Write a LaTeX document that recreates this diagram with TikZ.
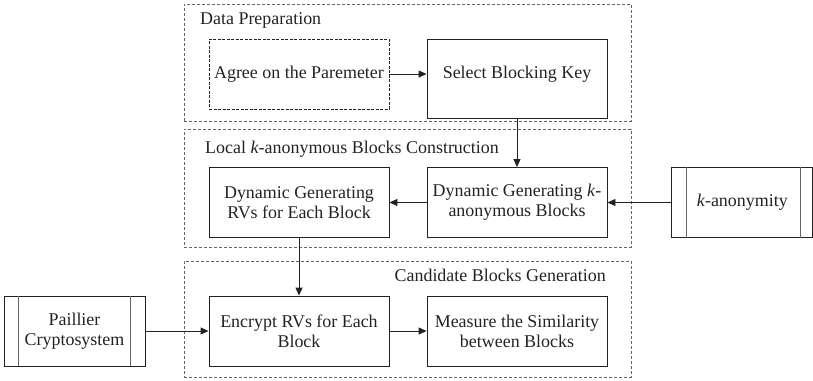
\documentclass[tikz,border=0pt]{standalone}
\usepackage{fontspec}
\setmainfont{Liberation Serif}
\usetikzlibrary{arrows.meta}
\definecolor{ink}{HTML}{222222}
\definecolor{frame}{HTML}{666666}
\begin{document}
\begin{tikzpicture}[x=1bp,y=-1bp,
  font=\fontsize{18}{20}\selectfont,
  every node/.style={text=ink},
  stage/.style={draw=frame, line width=0.8bp, dash pattern=on 3bp off 2bp, inner sep=0pt, anchor=north west},
  stagetitle/.style={inner sep=0pt},
  procbox/.style={draw=ink, line width=0.9bp, minimum width=180bp, minimum height=70bp, align=center, inner sep=2bp},
  optbox/.style={procbox, dash pattern=on 3bp off 1.5bp},
  extbox/.style={draw=ink, line width=0.9bp, minimum width=141bp, minimum height=70bp, align=center, inner sep=2bp},
  bar/.style={draw=frame, line width=1.1bp},
  flow/.style={draw=ink, line width=0.9bp, -{Triangle[length=8bp,width=7bp]}}
]
\useasboundingbox (0,0) rectangle (813,380);

% stage frames
\node[stage, minimum width=447bp, minimum height=117bp] (g1) at (184,4) {};
\node[stage, minimum width=447bp, minimum height=118bp] (g2) at (184,129) {};
\node[stage, minimum width=447bp, minimum height=116bp] (g3) at (184,261) {};

% stage titles
\node[stagetitle, anchor=west] (t1) at (200,20) {Data Preparation};
\node[stagetitle, anchor=west] (t2) at (205,149) {Local \textit{k}-anonymous Blocks Construction};
\node[stagetitle, anchor=east] (t3) at (606,275) {Candidate Blocks Generation};

% data preparation
\node[optbox] (agr) at (299,74) {Agree on the Paremeter};
\node[procbox, minimum height=79bp] (sel) at (517,78.5) {};
\node[inner sep=0pt] (selt) at (517,74) {Select Blocking Key};

% local k-anonymous blocks construction
\node[procbox] (rvs) at (299,202.5) {Dynamic Generating\\RVs for Each Block};
\node[procbox] (dka) at (517,202.5) {Dynamic Generating \textit{k}-\\anonymous Blocks};
\node[extbox] (kan) at (742.25,202.5) {\textit{k}-anonymity};
\draw[bar] ([xshift=15bp]kan.north west) -- ([xshift=15bp]kan.south west);
\draw[bar] ([xshift=-13bp]kan.north east) -- ([xshift=-13bp]kan.south east);

% candidate blocks generation
\node[procbox] (enc) at (299,331) {Encrypt RVs for Each\\Block};
\node[procbox] (mea) at (517,331) {Measure the Similarity\\between Blocks};
\node[extbox] (pai) at (74.5,331) {Paillier\\Cryptosystem};
\draw[bar] ([xshift=15bp]pai.north west) -- ([xshift=15bp]pai.south west);
\draw[bar] ([xshift=-15bp]pai.north east) -- ([xshift=-15bp]pai.south east);

% connectors
\draw[flow] (agr.east) -- (agr.east -| sel.west);
\draw[flow] (sel.south) -- (dka.north);
\draw[flow] (kan.west) -- (dka.east);
\draw[flow] (dka.west) -- (rvs.east);
\draw[flow] (rvs.south) -- (enc.north);
\draw[flow] (pai.east) -- (enc.west);
\draw[flow] (enc.east) -- (mea.west);
\end{tikzpicture}
\end{document}
